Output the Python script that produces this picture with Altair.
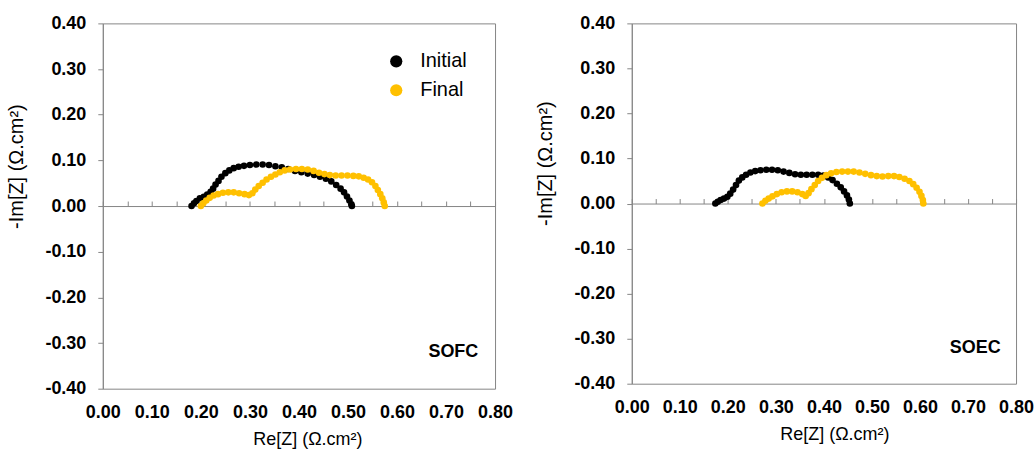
import altair as alt
import pandas as pd

# Impedance spectra, SOFC mode
sofc_initial_re = [0.181, 0.186, 0.191, 0.198, 0.206, 0.213, 0.220, 0.225, 0.230, 0.236,
                   0.242, 0.250, 0.258, 0.267, 0.277, 0.288, 0.300, 0.313, 0.326, 0.339,
                   0.352, 0.365, 0.378, 0.392, 0.405, 0.418, 0.431, 0.443, 0.455, 0.466,
                   0.476, 0.485, 0.492, 0.498, 0.503, 0.507, 0.508]
sofc_initial_im = [0.000, 0.006, 0.011, 0.017, 0.020, 0.025, 0.031, 0.038, 0.047, 0.055,
                   0.064, 0.072, 0.078, 0.083, 0.086, 0.088, 0.090, 0.091, 0.091, 0.090,
                   0.087, 0.085, 0.081, 0.077, 0.074, 0.071, 0.068, 0.064, 0.060, 0.054,
                   0.046, 0.038, 0.030, 0.021, 0.012, 0.004, 0.000]
sofc_final_re = [0.200, 0.205, 0.211, 0.218, 0.226, 0.235, 0.245, 0.256, 0.267, 0.278,
                 0.289, 0.298, 0.305, 0.311, 0.318, 0.326, 0.334, 0.343, 0.352, 0.361,
                 0.371, 0.382, 0.394, 0.406, 0.418, 0.430, 0.441, 0.452, 0.463, 0.475,
                 0.487, 0.499, 0.511, 0.522, 0.532, 0.541, 0.549, 0.556, 0.561, 0.566,
                 0.570, 0.573, 0.575]
sofc_final_im = [0.000, 0.006, 0.012, 0.018, 0.023, 0.026, 0.029, 0.030, 0.030, 0.028,
                 0.026, 0.024, 0.028, 0.036, 0.044, 0.051, 0.058, 0.064, 0.069, 0.074,
                 0.078, 0.080, 0.081, 0.081, 0.080, 0.077, 0.073, 0.070, 0.068, 0.067,
                 0.067, 0.067, 0.066, 0.065, 0.062, 0.058, 0.052, 0.044, 0.035, 0.026,
                 0.017, 0.008, 0.000]

# Impedance spectra, SOEC mode
soec_initial_re = [0.174, 0.179, 0.185, 0.192, 0.199, 0.205, 0.211, 0.217, 0.223, 0.230,
                   0.238, 0.247, 0.257, 0.268, 0.280, 0.292, 0.304, 0.316, 0.328, 0.340,
                   0.352, 0.364, 0.376, 0.388, 0.399, 0.409, 0.418, 0.427, 0.435, 0.442,
                   0.448, 0.452, 0.454]
soec_initial_im = [0.000, 0.004, 0.008, 0.011, 0.015, 0.022, 0.031, 0.041, 0.051, 0.058,
                   0.064, 0.069, 0.072, 0.074, 0.075, 0.075, 0.074, 0.071, 0.068, 0.065,
                   0.064, 0.064, 0.064, 0.064, 0.062, 0.058, 0.052, 0.044, 0.036, 0.027,
                   0.018, 0.009, 0.000]
soec_final_re = [0.272, 0.278, 0.285, 0.293, 0.302, 0.312, 0.323, 0.334, 0.345, 0.355,
                 0.362, 0.368, 0.374, 0.381, 0.388, 0.396, 0.405, 0.415, 0.426, 0.438,
                 0.450, 0.462, 0.474, 0.486, 0.498, 0.510, 0.522, 0.534, 0.546, 0.557,
                 0.568, 0.578, 0.586, 0.593, 0.599, 0.603, 0.606, 0.607]
soec_final_im = [0.000, 0.006, 0.011, 0.016, 0.021, 0.025, 0.027, 0.027, 0.025, 0.021,
                 0.017, 0.023, 0.032, 0.041, 0.050, 0.057, 0.063, 0.067, 0.070, 0.071,
                 0.071, 0.071, 0.069, 0.066, 0.063, 0.061, 0.060, 0.061, 0.061, 0.059,
                 0.055, 0.050, 0.043, 0.035, 0.026, 0.017, 0.008, 0.000]

series_names = ["Initial", "Final"]
series_colors = ["#000000", "#FFC000"]

x_labels = [0.0, 0.1, 0.2, 0.3, 0.4, 0.5, 0.6, 0.7, 0.8]
x_minor = [0.0, 0.05, 0.1, 0.15, 0.2, 0.25, 0.3, 0.35, 0.4, 0.45, 0.5, 0.55,
           0.6, 0.65, 0.7, 0.75, 0.8]
y_labels = [-0.4, -0.3, -0.2, -0.1, 0.0, 0.1, 0.2, 0.3, 0.4]

FONT = "Liberation Sans"
GRAY = "#868686"


def frame(init_re, init_im, fin_re, fin_im):
    a = pd.DataFrame({"re": init_re, "im": init_im, "series": "Initial"})
    b = pd.DataFrame({"re": fin_re, "im": fin_im, "series": "Final"})
    return pd.concat([a, b], ignore_index=True)


def panel(df, tag, width, height, show_legend, xtitle_x, ytitle_y):
    xs = alt.Scale(domain=[0, 0.8], nice=False, zero=False)
    ys = alt.Scale(domain=[-0.4, 0.4], nice=False)

    legend = None
    if show_legend:
        legend = alt.Legend(title=None, orient="none", legendX=284, legendY=28,
                            labelFontSize=20, labelFont=FONT, labelColor="#000000",
                            symbolType="circle", symbolSize=150, symbolStrokeWidth=0,
                            rowPadding=9, labelOffset=14, padding=0)

    points = alt.Chart(df).mark_circle(size=44, opacity=1).encode(
        x=alt.X("re:Q", scale=xs, axis=alt.Axis(
            orient="bottom", values=x_labels, format=".2f", domain=False,
            ticks=False, tickSize=0, grid=False, labelFontSize=18,
            labelFontWeight="bold", labelPadding=15, labelFlush=False,
            title="Re[Z] (Ω.cm²)", titleFontSize=18, titleFontWeight="normal",
            titleX=xtitle_x, titleY=51, titleBaseline="middle", titleAlign="center")),
        y=alt.Y("im:Q", scale=ys, axis=alt.Axis(
            values=y_labels,
            labelExpr="replace(format(datum.value, '.2f'), '\u2212', '-')",
            grid=False, domainColor=GRAY, tickColor=GRAY, tickSize=5,
            labelFontSize=18, labelFontWeight="bold", labelPadding=12,
            title="-Im[Z] (Ω.cm²)", titleFontSize=20, titleFontWeight="normal",
            titleAngle=270, titleX=-86, titleY=ytitle_y, titleBaseline="middle",
            titleAlign="center")),
        color=alt.Color("series:N", scale=alt.Scale(domain=series_names, range=series_colors),
                        legend=legend),
        order=alt.Order("order:Q"),
    ).transform_calculate(order="datum.series == 'Initial' ? 0 : 1")

    # horizontal axis line through zero with minor ticks
    zero_axis = alt.Chart(df).mark_circle(opacity=0).encode(
        x=alt.X("re:Q", scale=xs, axis=alt.Axis(
            orient="top", offset=-height / 2, values=x_minor, labels=False,
            domain=True, ticks=True, tickSize=5, domainColor=GRAY, tickColor=GRAY,
            grid=False, title=None)),
        y=alt.Y("im:Q", scale=ys, axis=None),
    )

    label = alt.Chart(pd.DataFrame({"re": [0.715], "im": [-0.32], "t": [tag]})).mark_text(
        font=FONT, fontSize=18, fontWeight="bold", color="#000000", align="center",
        baseline="middle").encode(
        x=alt.X("re:Q", scale=xs, axis=None),
        y=alt.Y("im:Q", scale=ys, axis=None),
        text="t:N",
    )

    return alt.layer(zero_axis, points, label).resolve_axis(
        x="independent", y="independent").properties(width=width, height=height)


sofc = frame(sofc_initial_re, sofc_initial_im, sofc_final_re, sofc_final_im)
soec = frame(soec_initial_re, soec_initial_im, soec_final_re, soec_final_im)

left = panel(sofc, "SOFC", 393, 366, True, 205, 143)
right = panel(soec, "SOEC", 385, 361, False, 203, 140)

chart = alt.hconcat(left, right, spacing=21).resolve_legend(
    color="independent").properties(
    padding={"left": 6, "top": 13, "right": 0, "bottom": 0},
    background="#ffffff",
).configure_view(stroke=GRAY, strokeWidth=1).configure_axis(
    labelFont=FONT, titleFont=FONT, labelColor="#000000", titleColor="#000000",
)

chart.save("out.html", embed_options={"renderer": "svg", "actions": False})
